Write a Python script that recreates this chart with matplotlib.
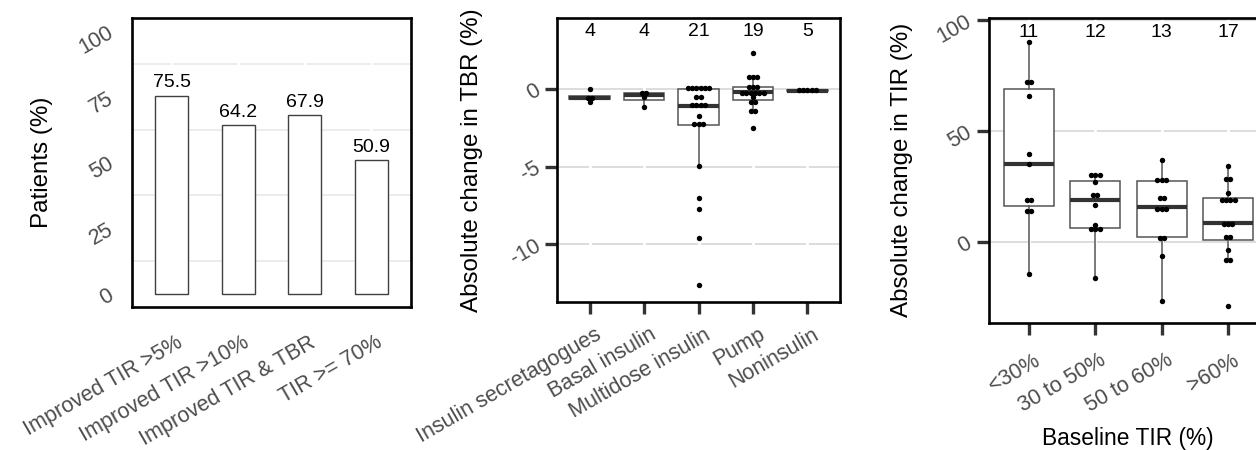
import numpy as np
import matplotlib
matplotlib.use("Agg")
import matplotlib.pyplot as plt
from matplotlib import transforms

plt.rcParams['font.family'] = ['Liberation Sans', 'DejaVu Sans']
plt.rcParams['axes.unicode_minus'] = False

# ---------------- data ----------------
bar_categories = ["Improved TIR >5%", "Improved TIR >10%", "Improved TIR & TBR", "TIR >= 70%"]
bar_values = [75.5, 64.2, 67.9, 50.9]

tbr_categories = ["Insulin secretagogues", "Basal insulin", "Multidose insulin", "Pump", "Noninsulin"]
tbr_secretagogues = [-0.85, -0.58, -0.54, 0.0]
tbr_basal = [-1.12, -0.52, -0.22, -0.2]
tbr_multidose = [-12.63, -9.57, -7.7, -6.99, -4.93, -2.32, -2.13, -2.1, -1.74, -1.1, -1.06,
                 -0.92, -0.88, -0.5, -0.45, 0.0, 0.12, 0.13, 0.14, 0.15, 0.16]
tbr_pump = [-2.52, -1.4, -1.38, -0.84, -0.82, -0.5, -0.25, -0.22, -0.2, -0.2, -0.2, -0.18,
            0.02, 0.1, 0.23, 0.75, 0.77, 0.8, 2.36]
tbr_noninsulin = [-0.12, -0.1, -0.08, -0.05, 0.0]

tir_categories = ["<30%", "30 to 50%", "50 to 60%", ">60%"]
tir_below30 = [-14.3, 13.8, 13.8, 19.1, 19.1, 35.3, 39.9, 65.8, 72.2, 72.2, 90.0]
tir_30to50 = [-16.3, 4.9, 5.3, 6.6, 7.6, 16.7, 20.8, 21.9, 27.0, 29.8, 30.0, 30.2]
tir_50to60 = [-26.5, -6.2, 0.8, 2.4, 14.5, 15.0, 15.6, 19.8, 20.2, 27.7, 28.3, 28.6, 37.2]
tir_above60 = [-28.7, -8.3, -8.1, -3.8, 1.0, 3.2, 7.8, 8.0, 8.4, 17.8, 18.1, 18.4, 19.9,
               22.1, 28.0, 28.4, 34.2]

# ---------------- helpers ----------------
W, H = 1256, 450
fig = plt.figure(figsize=(W / 100, H / 100), dpi=100)
TICK_GREY = '#4D4D4D'
XTICK_SIZE = 15.5
YTICK_SIZE = 15.5
YTITLE_SIZE = 17.4
XTITLE_SIZE = 16.4
ANNOT_SIZE = 14


def add_axes_px(x0, x1, y0, y1):
    return fig.add_axes([x0 / W, 1 - y1 / H, (x1 - x0) / W, (y1 - y0) / H])


def style_frame(ax):
    for s in ax.spines.values():
        s.set_color('black')
        s.set_linewidth(1.9)
        s.set_zorder(5)


def style_ticks(ax, tick_len, xpad, ypad, visible=True, xoff_px=4):
    ax.tick_params(axis='both', which='major', length=tick_len,
                   width=2.4 if visible else 0, color='#333333',
                   labelcolor=TICK_GREY)
    ax.tick_params(axis='x', which='major', labelsize=XTICK_SIZE, pad=xpad)
    ax.tick_params(axis='y', which='major', labelsize=YTICK_SIZE, pad=ypad)
    ax.tick_params(axis='both', which='minor', length=0)
    off = transforms.ScaledTranslation(xoff_px / 100, 0, fig.dpi_scale_trans)
    for lab in ax.get_xticklabels():
        lab.set_rotation(30)
        lab.set_ha('right')
        lab.set_va('top')
        lab.set_rotation_mode('anchor')
        lab.set_transform(lab.get_transform() + off)
    for lab in ax.get_yticklabels():
        lab.set_rotation(30)
        lab.set_ha('right')
        lab.set_va('center')
        lab.set_rotation_mode('anchor')


def dot_stack(values, binwidth):
    vals = np.sort(np.asarray(values, dtype=float))
    offs, ys = [], []
    i, n = 0, len(vals)
    while i < n:
        j = i
        while j + 1 < n and vals[j + 1] - vals[i] < binwidth:
            j += 1
        grp = vals[i:j + 1]
        center = (grp[0] + grp[-1]) / 2
        k = len(grp)
        for m in range(k):
            offs.append(m - (k - 1) / 2)
            ys.append(center)
        i = j + 1
    return np.array(offs), np.array(ys)


def box_dots(ax, groups, binwidth, ax_width_px, xlim):
    pos = np.arange(1, len(groups) + 1)
    ax.boxplot(groups, positions=pos, widths=0.75, showfliers=False, showcaps=False,
               patch_artist=True,
               boxprops=dict(facecolor='white', edgecolor='#555555', linewidth=1.1),
               medianprops=dict(color='#333333', linewidth=3.0),
               whiskerprops=dict(color='#555555', linewidth=1.1),
               zorder=2)
    step = 4.3 / (ax_width_px / (xlim[1] - xlim[0]))
    for p, g in zip(pos, groups):
        offs, ys = dot_stack(g, binwidth)
        ax.plot(p + offs * step, ys, 'o', ms=3.9, color='black', mew=0, zorder=4)
    count_tf = transforms.blended_transform_factory(ax.transData, ax.transAxes)
    for p, g in zip(pos, groups):
        ax.text(p, 0.951, str(len(g)), transform=count_tf, ha='center', va='center',
                fontsize=ANNOT_SIZE, color='black')
    return pos


# ---------------- panel 1 ----------------
ax1 = add_axes_px(132, 411, 18, 307)
x1 = np.arange(1, len(bar_values) + 1)
bars = ax1.bar(x1, bar_values, width=0.5, color='white', edgecolor='#404040',
               linewidth=1.0, zorder=2)
ax1.bar_label(bars, labels=[f'{v:.1f}' for v in bar_values], padding=3, fontsize=ANNOT_SIZE)
ax1.set_xlim(0.4, 4.6)
ax1.set_ylim(-5, 105)
ax1.set_xticks(x1, bar_categories)
ax1.set_yticks([0, 25, 50, 75, 100])
ax1.set_yticks([12.5, 37.5, 62.5, 87.5], minor=True)
ax1.grid(axis='y', which='minor', color='#EBEBEB', linewidth=1.3)
ax1.grid(axis='x', which='major', color='white', linewidth=2)
ax1.set_axisbelow(True)
ax1.yaxis.set_zorder(0.5)
ax1.xaxis.set_zorder(0.6)
style_frame(ax1)
style_ticks(ax1, 0, 18.0, 14.4, visible=False)
fig.text(42 / W, 1 - 162 / H, 'Patients (%)', rotation=90, ha='center', va='center',
         fontsize=YTITLE_SIZE)

# ---------------- panel 2 ----------------
ax2 = add_axes_px(557, 840, 18, 302)
xl2 = (0.4, 5.6)
groups2 = [tbr_secretagogues, tbr_basal, tbr_multidose, tbr_pump, tbr_noninsulin]
pos2 = box_dots(ax2, groups2, 0.25, 283, xl2)
ax2.set_xlim(*xl2)
ax2.set_ylim(-13.72, 4.6)
ax2.set_xticks(pos2, tbr_categories)
ax2.set_yticks([-10, -5, 0])
ax2.grid(axis='y', which='major', color='#D3D3D3', linewidth=1.1)
ax2.grid(axis='x', which='major', color='white', linewidth=2)
ax2.set_axisbelow(True)
ax2.yaxis.set_zorder(0.5)
ax2.xaxis.set_zorder(0.6)
style_frame(ax2)
style_ticks(ax2, 8.5, 7.5, 4.3, xoff_px=5)
fig.text(472 / W, 1 - 160 / H, 'Absolute change in TBR (%)', rotation=90, ha='center',
         va='center', fontsize=YTITLE_SIZE)

# ---------------- panel 3 ----------------
ax3 = add_axes_px(989, 1268, 18, 323)
xl3 = (0.4, 4.6)
groups3 = [tir_below30, tir_30to50, tir_50to60, tir_above60]
pos3 = box_dots(ax3, groups3, 2.6, 279, xl3)
ax3.set_xlim(*xl3)
ax3.set_ylim(-36.5, 101.0)
ax3.set_xticks(pos3, tir_categories)
ax3.set_yticks([0, 50, 100])
ax3.grid(axis='y', which='major', color='#D3D3D3', linewidth=1.1)
ax3.grid(axis='x', which='major', color='white', linewidth=2)
ax3.set_axisbelow(True)
ax3.yaxis.set_zorder(0.5)
ax3.xaxis.set_zorder(0.6)
style_frame(ax3)
style_ticks(ax3, 8.5, 11.0, 5.0)
fig.text(902 / W, 1 - 170 / H, 'Absolute change in TIR (%)', rotation=90, ha='center',
         va='center', fontsize=YTITLE_SIZE)
fig.text(1128 / W, 1 - 439 / H, 'Baseline TIR (%)', ha='center', va='center',
         fontsize=XTITLE_SIZE)

fig.savefig('out.png', dpi=100, facecolor='white')
